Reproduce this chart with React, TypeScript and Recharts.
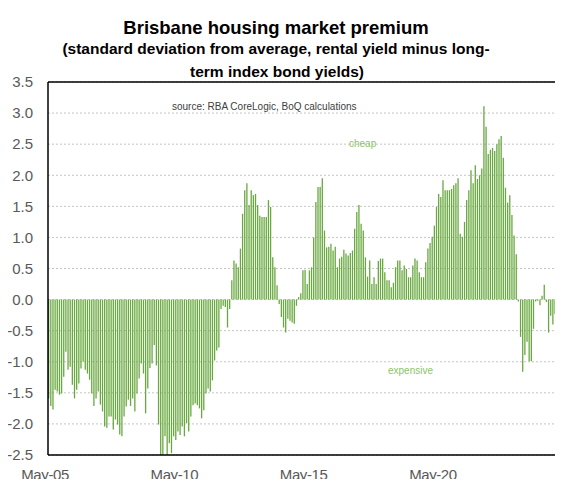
import React from 'react';
import { BarChart, Bar, XAxis, YAxis, CartesianGrid, ReferenceLine } from 'recharts';

// Brisbane housing market premium, monthly from May-05 (std dev from average)
const premium2005to2010 = [
  -1.59, -1.71, -1.77, -1.45, -1.48, -1.53, -1.51, -1.24, -0.84, -1.13, -1.08, -1.37,
  -1.59, -1.45, -1.35, -1.11, -1.0, -1.13, -1.19, -1.29, -1.51, -1.71, -1.59, -1.48,
  -1.69, -1.8, -2.04, -2.06, -1.88, -1.88, -2.09, -1.93, -2.01, -2.17, -2.2, -1.88,
  -1.72, -1.61, -1.71, -1.59, -1.8, -1.51, -1.27, -1.03, -1.19, -1.83, -1.43, -1.1,
  -1.03, -0.73, -1.06, -2.01, -2.5, -2.5, -2.2, -2.5, -2.31, -2.47, -2.2, -2.26,
];
const premium2010to2015 = [
  -2.12, -2.18, -2.04, -2.2, -1.99, -2.12, -1.88, -1.7, -1.67, -1.7, -1.75, -1.91,
  -1.78, -1.51, -1.43, -1.48, -1.3, -0.98, -0.82, -0.77, -0.15, -0.1, -0.12, -0.45,
  -0.15, 0.31, 0.63, 0.58, 0.52, 0.82, 1.38, 1.76, 1.87, 1.52, 1.76, 1.68,
  1.7, 1.52, 1.35, 1.33, 1.33, 1.33, 1.6, 1.49, 0.68, 0.52, 0.23, -0.07,
  -0.28, -0.45, -0.53, -0.31, -0.34, -0.37, -0.39, -0.1, 0.04, 0.1, 0.47, 0.48,
];
const premium2015to2020 = [
  0.25, 0.47, 0.52, 1.0, 1.57, 1.81, 1.81, 1.95, 1.11, 0.84, 0.85, 0.9,
  0.79, 0.85, 0.52, 0.66, 0.69, 0.8, 0.74, 0.71, 0.75, 0.79, 1.14, 1.41,
  1.52, 1.22, 1.11, 0.68, 0.37, 0.63, 0.25, 0.36, 0.25, 0.62, 0.66, 0.66,
  0.44, 0.31, 0.31, 0.2, 0.27, 0.52, 0.63, 0.63, 0.47, 0.55, 0.49, 0.36,
  0.36, 0.55, 0.66, 0.63, 0.44, 0.36, 0.36, 0.6, 0.82, 0.91, 1.01, 1.19,
];
const premium2020to2025 = [
  1.49, 1.7, 1.65, 1.92, 1.76, 1.76, 1.76, 1.78, 1.84, 1.87, 1.95, 1.06,
  1.01, 1.25, 1.6, 1.76, 2.08, 1.87, 2.16, 1.94, 2.0, 2.11, 3.11, 2.78,
  2.34, 2.41, 2.44, 2.39, 2.5, 2.58, 2.63, 2.28, 1.8, 1.56, 1.68, 1.36,
  1.03, 0.73, -0.03, -0.6, -1.16, -0.89, -0.68, -0.99, -0.99, -0.47, -0.03, -0.02,
  -0.09, 0.06, 0.24, -0.04, -0.53, -0.26, -0.4, -0.23, -0.05,
];

const xTickLabels = ['May-05', 'May-10', 'May-15', 'May-20'];
const yTicks = [-2.5, -2, -1.5, -1, -0.5, 0, 0.5, 1, 1.5, 2, 2.5, 3, 3.5];

const MONTH_NAMES = ['Jan', 'Feb', 'Mar', 'Apr', 'May', 'Jun', 'Jul', 'Aug', 'Sep', 'Oct', 'Nov', 'Dec'];

const premium = [...premium2005to2010, ...premium2010to2015, ...premium2015to2020, ...premium2020to2025];

// axis runs two months past the last observation (to Mar-25)
const axisMonths = premium.length + 2;

const chartData = Array.from({ length: axisMonths }, (_, i) => {
  const m = 4 + i; // May 2005 start
  const year = 2005 + Math.floor(m / 12);
  const label = `${MONTH_NAMES[m % 12]}-${String(year % 100).padStart(2, '0')}`;
  return { month: label, value: i < premium.length ? premium[i] : null };
});

const FONT = "'Liberation Sans', Arial, sans-serif";
const GREEN = '#68a83f';

const XTick = (props: any) => {
  const { x, y, payload } = props;
  return (
    <text x={x - 4} y={y} dy="0.71em" textAnchor="middle" fill="#595959" fontSize={15} letterSpacing={-0.4} fontFamily={FONT}>
      {payload.value}
    </text>
  );
};

export default function App() {
  return (
    <div style={{ position: 'relative', width: 555, height: 471, fontFamily: FONT }}>
      <BarChart width={555} height={479} data={chartData} margin={{ top: 74, right: 0, left: 0, bottom: 0 }}>
        <CartesianGrid vertical={false} stroke="#c4c4c4" strokeDasharray="2 2" />
        <XAxis
          dataKey="month"
          ticks={xTickLabels}
          interval={0}
          height={32}
          tickLine={false}
          tickSize={0}
          tickMargin={14}
          axisLine={{ stroke: '#000', strokeWidth: 1.5 }}
          tick={<XTick />}
        />
        <YAxis
          type="number"
          domain={[-2.5, 3.5]}
          ticks={yTicks}
          interval={0}
          width={40}
          tickLine={false}
          tickSize={0}
          tickMargin={15}
          axisLine={{ stroke: '#000', strokeWidth: 1.5 }}
          tickFormatter={(v: number) => v.toFixed(1)}
          tick={{ fill: '#595959', fontSize: 15, fontFamily: FONT }}
        />
        <ReferenceLine y={3.5} stroke="#000" strokeWidth={1.5} />
        <Bar dataKey="value" fill={GREEN} barSize={1.3} isAnimationActive={false} />
      </BarChart>
      <svg width={555} height={471} style={{ position: 'absolute', left: 0, top: 0, pointerEvents: 'none' }}>
        <g fontFamily={FONT} textAnchor="middle" fill="#000" fontWeight="bold">
          <text x={268} y={26} fontSize={18.5}>Brisbane housing market premium</text>
          <text x={268} y={45.5} fontSize={15.5}>(standard deviation from average, rental yield minus long-</text>
          <text x={269} y={69} fontSize={15.5}>term index bond yields)</text>
        </g>
        <text x={164} y={101.5} fontSize={10} fill="#404040" fontFamily={FONT}>source:  RBA CoreLogic, BoQ calculations</text>
        <text x={341} y={139} fontSize={10} fill="#8cc46a" fontFamily={FONT}>cheap</text>
        <text x={380} y={366} fontSize={10} fill="#8cc46a" fontFamily={FONT}>expensive</text>
      </svg>
    </div>
  );
}
